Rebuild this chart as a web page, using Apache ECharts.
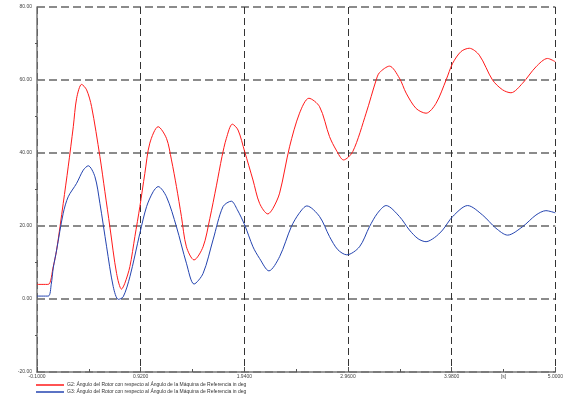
<!DOCTYPE html>
<html>
<head>
<meta charset="utf-8">
<script src="https://cdn.jsdelivr.net/npm/echarts@6/dist/echarts.min.js"></script>
<style>
  html, body { margin: 0; padding: 0; background: #fff; }
  #chart { width: 566px; height: 394px; }
</style>
</head>
<body>
<div id="chart"></div>
<script>
// Rotor angle of G2 relative to the reference machine (deg)
const timeG2 = [-0.10, 0.01, 0.06, 0.093, 0.158, 0.207, 0.257, 0.29, 0.339, 0.388, 0.437, 0.519, 0.568, 0.617, 0.683, 0.732, 0.764, 0.814, 0.863, 0.912, 0.961, 1.01, 1.092, 1.174, 1.223, 1.272, 1.321, 1.37, 1.445, 1.534, 1.60, 1.665, 1.72, 1.763, 1.822, 1.878, 1.943, 2.025, 2.09, 2.172, 2.221, 2.287, 2.385, 2.483, 2.575, 2.68, 2.778, 2.844, 2.916, 3.007, 3.138, 3.237, 3.269, 3.368, 3.466, 3.532, 3.63, 3.728, 3.826, 3.925, 3.99, 4.072, 4.153, 4.252, 4.382, 4.481, 4.563, 4.677, 4.809, 4.923, 5.0];
const angleG2 = [4.0, 4.0, 8.9, 13.4, 26.2, 36.2, 47.2, 55.0, 58.8, 57.3, 52.7, 39.0, 29.4, 19.8, 7.0, 2.7, 4.3, 8.9, 17.1, 25.3, 34.4, 42.7, 47.2, 44.0, 38.1, 30.8, 22.6, 14.3, 10.7, 14.3, 22.0, 31.0, 39.0, 44.0, 47.9, 46.3, 40.4, 32.6, 26.2, 23.3, 24.8, 29.0, 41.7, 50.9, 55.0, 52.7, 44.5, 40.8, 38.1, 40.4, 50.9, 60.0, 62.0, 63.8, 60.5, 56.4, 52.2, 50.9, 53.6, 60.0, 64.6, 67.8, 68.7, 66.8, 60.0, 57.3, 56.5, 59.1, 63.6, 65.9, 65.0];

// Rotor angle of G3 relative to the reference machine (deg)
const timeG3 = [-0.10, 0.011, 0.04, 0.06, 0.093, 0.158, 0.207, 0.29, 0.355, 0.404, 0.47, 0.519, 0.585, 0.65, 0.70, 0.748, 0.814, 0.912, 0.978, 1.043, 1.092, 1.174, 1.272, 1.37, 1.445, 1.534, 1.632, 1.73, 1.812, 1.87, 1.943, 2.025, 2.09, 2.182, 2.287, 2.402, 2.48, 2.555, 2.68, 2.778, 2.86, 2.948, 3.073, 3.171, 3.25, 3.335, 3.466, 3.564, 3.65, 3.728, 3.81, 3.891, 3.99, 4.137, 4.284, 4.415, 4.53, 4.677, 4.809, 4.907, 5.0];
const angleG3 = [0.8, 0.8, 4.0, 8.5, 13.4, 23.5, 28.0, 31.7, 35.3, 36.5, 33.5, 26.2, 14.3, 3.4, -0.1, 0.6, 6.1, 18.0, 25.3, 29.4, 30.8, 28.0, 19.8, 9.8, 4.1, 7.0, 16.2, 25.3, 26.8, 24.5, 20.3, 14.3, 11.1, 7.7, 11.6, 19.8, 23.5, 25.5, 22.6, 17.1, 13.5, 12.1, 14.3, 19.8, 23.5, 25.6, 22.6, 18.9, 16.5, 15.7, 16.8, 18.9, 22.6, 25.6, 23.0, 19.4, 17.5, 19.8, 23.0, 24.2, 23.6];

// Axis ticks
const xMin = -0.1, xMax = 5.0, xStep = 1.02;
const xLabelValues = [-0.1, 0.92, 1.94, 2.96, 3.98, 4.49, 5.0];
const xUnitAt = 4.49, xUnitText = '[s]';
const yMin = -20, yMax = 80, yStep = 20;

const seriesNames = [
  'G2: Ángulo del Rotor con respecto al Ángulo de la Máquina de Referencia in deg',
  'G3: Ángulo del Rotor con respecto al Ángulo de la Máquina de Referencia in deg'
];
const seriesColors = ['#ff1a1a', '#2444b0'];

const zip = (xs, ys) => xs.map((x, i) => [x, ys[i]]);

const font = 'Liberation Sans, Arial, sans-serif';
const chart = echarts.init(document.getElementById('chart'), null, { renderer: 'canvas' });

// one legend row per curve, stacked under the plot
const legendRow = (name, top) => ({
  orient: 'horizontal',
  left: 36, top: top,
  itemWidth: 28, itemHeight: 1.5,
  icon: 'rect',
  padding: 0,
  selectedMode: false,
  textStyle: { fontSize: 5, fontFamily: font, color: '#333', lineHeight: 6, padding: [0, 0, 0, -2] },
  data: [name]
});

chart.setOption({
  animation: false,
  backgroundColor: '#ffffff',
  grid: { left: 37, right: 10, top: 7, bottom: 22, containLabel: false },
  legend: [legendRow(seriesNames[0], 382), legendRow(seriesNames[1], 389)],
  xAxis: {
    type: 'value',
    min: xMin, max: xMax, interval: xStep,
    axisLine: { show: true, onZero: false, lineStyle: { color: '#777', width: 1.5 } },
    axisTick: { show: true, inside: true, length: 5, lineStyle: { color: '#555' } },
    minorTick: { show: true, splitNumber: 2, length: 3, lineStyle: { color: '#555' } },
    axisLabel: {
      customValues: xLabelValues,
      margin: 2,
      fontSize: 5, fontFamily: font, color: '#444',
      formatter: v => Math.abs(v - xUnitAt) < 1e-6 ? xUnitText : v.toFixed(4)
    },
    splitLine: { show: true, lineStyle: { color: '#333', width: 1, type: [7, 4] } }
  },
  yAxis: {
    type: 'value',
    min: yMin, max: yMax, interval: yStep,
    axisLine: { show: true, onZero: false, lineStyle: { color: '#777', width: 1.5 } },
    axisTick: { show: false },
    minorTick: { show: true, splitNumber: 2, length: 2, lineStyle: { color: '#555' } },
    axisLabel: {
      margin: 5,
      fontSize: 5, fontFamily: font, color: '#444',
      formatter: v => v.toFixed(2)
    },
    splitLine: { show: true, lineStyle: { color: '#666', width: 1.5, type: [8, 4] } }
  },
  series: [
    {
      name: seriesNames[0], type: 'line',
      data: zip(timeG2, angleG2),
      showSymbol: false, smooth: 0.3,
      lineStyle: { color: seriesColors[0], width: 1 },
      itemStyle: { color: seriesColors[0] }
    },
    {
      name: seriesNames[1], type: 'line',
      data: zip(timeG3, angleG3),
      showSymbol: false, smooth: 0.3,
      lineStyle: { color: seriesColors[1], width: 1 },
      itemStyle: { color: seriesColors[1] }
    }
  ]
});
</script>
</body>
</html>
